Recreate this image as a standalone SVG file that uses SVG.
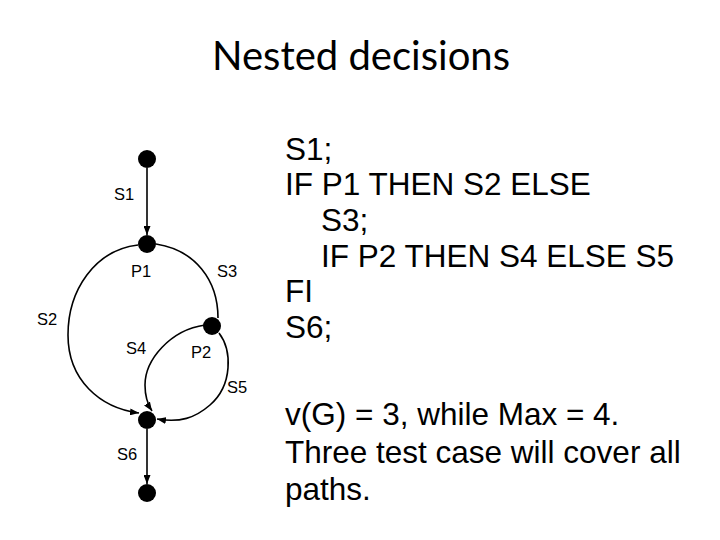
<svg xmlns="http://www.w3.org/2000/svg" width="720" height="540" viewBox="0 0 720 540">
<defs>
<marker id="arr" viewBox="0 0 9 7" refX="9" refY="3.5" markerWidth="9" markerHeight="7" markerUnits="userSpaceOnUse" orient="auto">
<path d="M0,0 L9,3.5 L0,7 z" fill="#000"/>
</marker>
<style>
.n{fill:#000}
.e{fill:none;stroke:#000;stroke-width:1.6}
.lb{font-family:"Liberation Sans",Arial,sans-serif;font-size:16.5px;fill:#000}
.code{font-family:"Liberation Sans",Arial,sans-serif;font-size:31.5px;fill:#000}
.title{font-family:Lato,"Open Sans",sans-serif;font-size:41px;fill:#000}
</style>
</defs>
<rect width="720" height="540" fill="#fff"/>
<text class="title" x="361" y="70" text-anchor="middle" textLength="298" lengthAdjust="spacingAndGlyphs">Nested decisions</text>

<g id="connectors">
<line class="e" x1="147" y1="168" x2="147" y2="235" stroke-width="2" marker-end="url(#arr)"/>
<path class="e" d="M138,245 C95,250 68,290 68,335 C68,380 100,408 139,413" marker-end="url(#arr)"/>
<path class="e" d="M156,244 C195,250 218,280 218,318"/>
<path class="e" d="M205,325 C170,330 145,360 145,385 C145,398 148,405 152,411" marker-end="url(#arr)"/>
<path class="e" d="M219,333 C232,350 233,385 210,405 C195,418 180,423 157,419" marker-end="url(#arr)"/>
<line class="e" x1="147" y1="429" x2="147" y2="484" marker-end="url(#arr)"/>
</g>

<g id="n1"><circle class="n" cx="147" cy="159" r="9"/></g>
<g id="nP1"><circle class="n" cx="147" cy="244" r="9"/></g>
<g id="nP2"><circle class="n" cx="212" cy="326" r="9"/></g>
<g id="nJ"><circle class="n" cx="147" cy="420" r="9"/></g>
<g id="nEnd"><circle class="n" cx="147" cy="493" r="9"/></g>

<g id="labels">
<text class="lb" x="114" y="200">S1</text>
<text class="lb" x="131" y="277">P1</text>
<text class="lb" x="217" y="277">S3</text>
<text class="lb" x="37" y="325">S2</text>
<text class="lb" x="126" y="354">S4</text>
<text class="lb" x="191" y="358">P2</text>
<text class="lb" x="227" y="393">S5</text>
<text class="lb" x="117" y="460">S6</text>
</g>

<g id="code">
<text class="code" x="285" y="160">S1;</text>
<text class="code" x="285" y="195">IF P1 THEN S2 ELSE</text>
<text class="code" x="321" y="231">S3;</text>
<text class="code" x="321" y="267">IF P2 THEN S4 ELSE S5</text>
<text class="code" x="285" y="302">FI</text>
<text class="code" x="285" y="338">S6;</text>
</g>

<g id="notes">
<text class="code" x="285" y="425">v(G) = 3, while Max = 4.</text>
<text class="code" x="285" y="463">Three test case will cover all</text>
<text class="code" x="285" y="500">paths.</text>
</g>
</svg>
